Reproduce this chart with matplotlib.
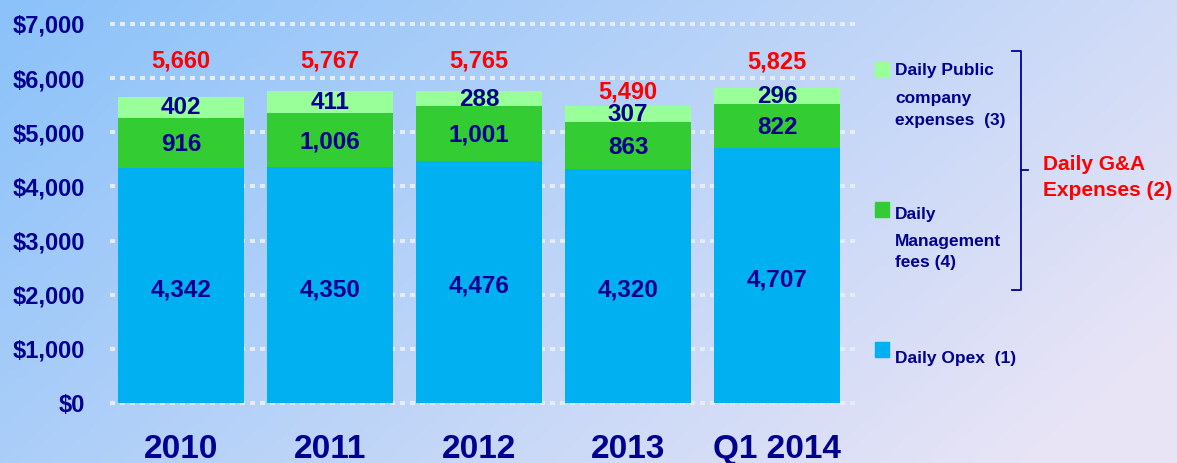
import numpy as np
import matplotlib
matplotlib.use("Agg")
import matplotlib.pyplot as plt
from matplotlib.lines import Line2D
from matplotlib.patches import Rectangle

categories = ["2010", "2011", "2012", "2013", "Q1 2014"]
opex = [4342, 4350, 4476, 4320, 4707]
mgmt_fees = [916, 1006, 1001, 863, 822]
public_co = [402, 411, 288, 307, 296]
totals = [5660, 5767, 5765, 5490, 5825]
ytick_vals = [0, 1000, 2000, 3000, 4000, 5000, 6000, 7000]
ytick_labels = ["$0", "$1,000", "$2,000", "$3,000", "$4,000", "$5,000", "$6,000", "$7,000"]

W, H = 1177, 463
NARROW = ["Liberation Sans Narrow", "Liberation Sans", "DejaVu Sans"]
ARIAL = ["Liberation Sans", "DejaVu Sans"]
NAVY = "#000090"
RED = "#FF0000"
C_OPEX = "#00B0F0"
C_MGMT = "#33CC33"
C_PUB = "#99FF99"

fig = plt.figure(figsize=(W / 100, H / 100), dpi=100)

# gradient background
bg = fig.add_axes([0, 0, 1, 1], zorder=-10)
xx, yy = np.meshgrid(np.linspace(0, 1, 300), np.linspace(0, 1, 120))
t = np.clip(0.75 * xx + 0.35 * yy, 0, 1)
c0 = np.array([138, 194, 250]) / 255.0
c1 = np.array([232, 228, 246]) / 255.0
img = c0[None, None, :] * (1 - t[..., None]) + c1[None, None, :] * t[..., None]
bg.imshow(img, aspect="auto", extent=[0, 1, 0, 1], origin="upper")
bg.axis("off")

def fx(px):
    return px / W

def fy(py):
    return 1 - py / H

ax = fig.add_axes([fx(110), fy(403), (855 - 110) / W, (403 - 24) / H])
ax.patch.set_alpha(0)
x = np.arange(len(categories))
ax.set_xlim(-0.477, 4.523)
ax.set_ylim(0, 7000)

for v in ytick_vals:
    ax.axhline(v, color="#E6ECF7", lw=2.9, linestyle=(0, (1.0, 1.25)), zorder=0,
               dash_capstyle="butt", antialiased=False, clip_on=False)

bw = 0.84
ax.bar(x, opex, bw, color=C_OPEX, zorder=2)
ax.bar(x, mgmt_fees, bw, bottom=opex, color=C_MGMT, zorder=2)
bottom3 = [a + b for a, b in zip(opex, mgmt_fees)]
ax.bar(x, public_co, bw, bottom=bottom3, color=C_PUB, zorder=2)

vfs = 17.5
for i in range(len(categories)):
    ax.text(x[i], opex[i] / 2 - 80, f"{opex[i]:,}", ha="center", va="center",
            fontsize=vfs, fontweight="bold", color=NAVY, family=NARROW, zorder=3)
    ax.text(x[i], opex[i] + mgmt_fees[i] / 2 - 30, f"{mgmt_fees[i]:,}", ha="center",
            va="center", fontsize=vfs, fontweight="bold", color=NAVY, family=NARROW, zorder=3)
    ax.text(x[i], bottom3[i] + public_co[i] / 2 - 10, f"{public_co[i]:,}", ha="center",
            va="center", fontsize=vfs, fontweight="bold", color=NAVY, family=NARROW, zorder=3)

total_label_y = [6320, 6320, 6320, 5740, 6290]
for i in range(len(categories)):
    ax.text(x[i], total_label_y[i], f"{totals[i]:,}", ha="center", va="center",
            fontsize=17, fontweight="bold", color=RED, family=ARIAL, zorder=3)

ax.set_yticks(ytick_vals)
ax.set_yticklabels(ytick_labels, fontsize=17, fontweight="bold", color=NAVY, family=NARROW)
ax.set_xticks(x)
ax.set_xticklabels(categories, fontsize=24, fontweight="bold", color=NAVY, family=ARIAL)
ax.tick_params(axis="both", length=0)
ax.tick_params(axis="y", pad=18)
ax.tick_params(axis="x", pad=22)
for s in ax.spines.values():
    s.set_visible(False)

# legend
legend_items = [
    (C_PUB, 62, ["Daily Public", "company", "expenses  (3)"], [70, 98, 120]),
    (C_MGMT, 202, ["Daily", "Management", "fees (4)"], [215, 242, 263]),
    (C_OPEX, 342, ["Daily Opex  (1)"], [358]),
]
for col, sy, lines, ys in legend_items:
    fig.patches.append(Rectangle((fx(875), fy(sy + 15)), 14 / W, 15 / H,
                                 transform=fig.transFigure, color=col, figure=fig))
    for ln, ly in zip(lines, ys):
        fig.text(fx(895), fy(ly), ln, ha="left", va="center", fontsize=12.5,
                 fontweight="bold", color=NAVY, family=NARROW)

# bracket
bk = dict(color=NAVY, lw=1.3, transform=fig.transFigure, figure=fig)
fig.lines.append(Line2D([fx(1012), fx(1021), fx(1021), fx(1012)],
                        [fy(51), fy(51), fy(290), fy(290)], **bk))
fig.lines.append(Line2D([fx(1021), fx(1028)], [fy(170), fy(170)], **bk))
fig.text(fx(1043), fy(165), "Daily G&A", ha="left", va="center", fontsize=15,
         fontweight="bold", color=RED, family=ARIAL)
fig.text(fx(1043), fy(190), "Expenses (2)", ha="left", va="center", fontsize=15,
         fontweight="bold", color=RED, family=ARIAL)

fig.savefig("out.png", dpi=100)
